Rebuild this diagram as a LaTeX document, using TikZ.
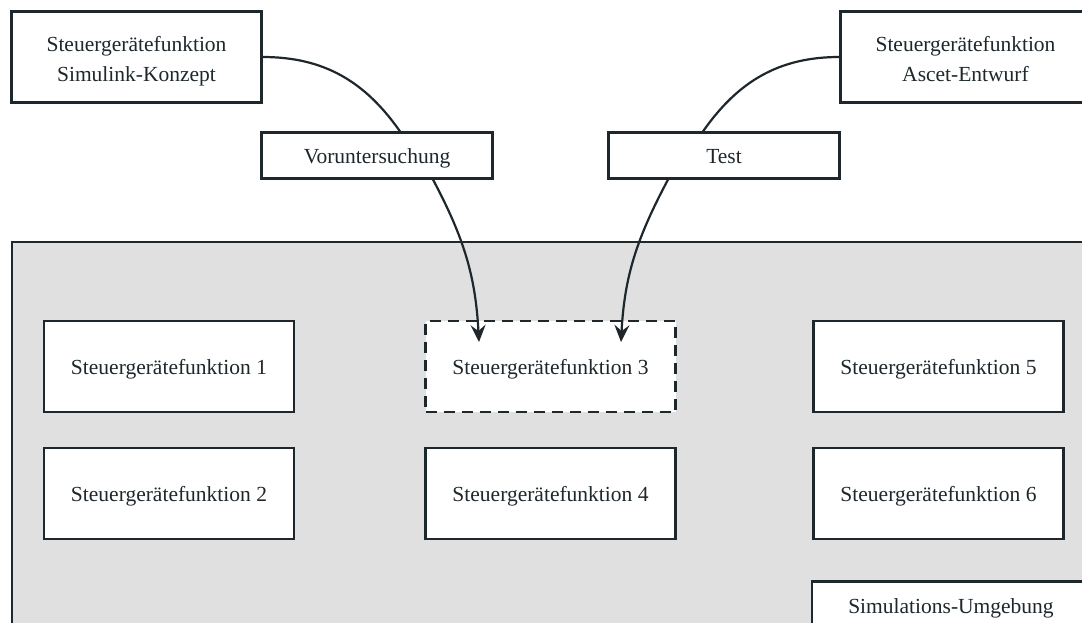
\documentclass[tikz,border=0pt]{standalone}
\usepackage{fontspec}
\setmainfont{Liberation Serif}
\usetikzlibrary{arrows.meta,calc}
\definecolor{ink}{HTML}{1E272B}
\definecolor{envgray}{HTML}{E0E0E0}
\begin{document}
\begin{tikzpicture}[x=1pt,y=1pt,
  base/.style={draw=ink, line width=2.2pt, fill=white, inner sep=0pt,
    text=ink, align=center, font=\fontsize{21.5}{30}\selectfont},
  oneline/.style={base, text height=19pt, text depth=3pt},
  fbox/.style={oneline, minimum width=250pt, minimum height=91pt},
  twobox/.style={base, minimum width=250pt, minimum height=91pt,
    text height=52pt, text depth=2pt},
  labelbox/.style={oneline, minimum width=231pt, minimum height=46pt},
  draftbox/.style={fbox, dash pattern=on 11pt off 7pt},
  flow/.style={draw=ink, line width=2.2pt,
    -{Stealth[length=17pt,width=15pt,inset=6pt]}},
  link/.style={draw=ink, line width=2.2pt}
]
\useasboundingbox (0,0) rectangle (1082,622);
\begin{scope}
\clip (0,0) rectangle (1082,622);

% simulation environment
\path[fill=envgray, draw=ink, line width=2.2pt] (12,380) rectangle (1110,-30);

% source functions
\node[twobox] (simk) at (136.5,565) {Steuergerätefunktion\\Simulink-Konzept};
\node[twobox] (asct) at (965.5,565) {Steuergerätefunktion\\Ascet-Entwurf};

% activities
\node[labelbox] (vor)  at (377,466.5) {Voruntersuchung};
\node[labelbox] (test) at (724,466.5) {Test};

% functions in the environment
\node[fbox]     (sf1) at (169,255.5)   {Steuergerätefunktion 1};
\node[draftbox] (sf3) at (550.5,255.5) {Steuergerätefunktion 3};
\node[fbox]     (sf5) at (938.5,255.5) {Steuergerätefunktion 5};
\node[fbox]     (sf2) at (169,128.5)   {Steuergerätefunktion 2};
\node[fbox]     (sf4) at (550.5,128.5) {Steuergerätefunktion 4};
\node[fbox]     (sf6) at (938.5,128.5) {Steuergerätefunktion 6};
\node[oneline, minimum width=278pt, minimum height=47pt] (sim) at (951,17) {Simulations-Umgebung};

% arrow end points inside function 3
\coordinate (in3a) at ($(sf3.center)+(-71.5,24.5)$);
\coordinate (in3b) at ($(sf3.center)+(70.5,24.5)$);

% connectors
\draw[link] (simk.east) to[out=0, in=125] ($(vor.north)+(23,0)$);
\draw[flow] ($(vor.south)+(56,0)$) to[out=-62, in=93] (in3a);
\draw[link] (asct.west) to[out=180, in=55] ($(test.north)+(-21,0)$);
\draw[flow] ($(test.south)+(-56,0)$) to[out=-118, in=87] (in3b);
\end{scope}
\end{tikzpicture}
\end{document}
